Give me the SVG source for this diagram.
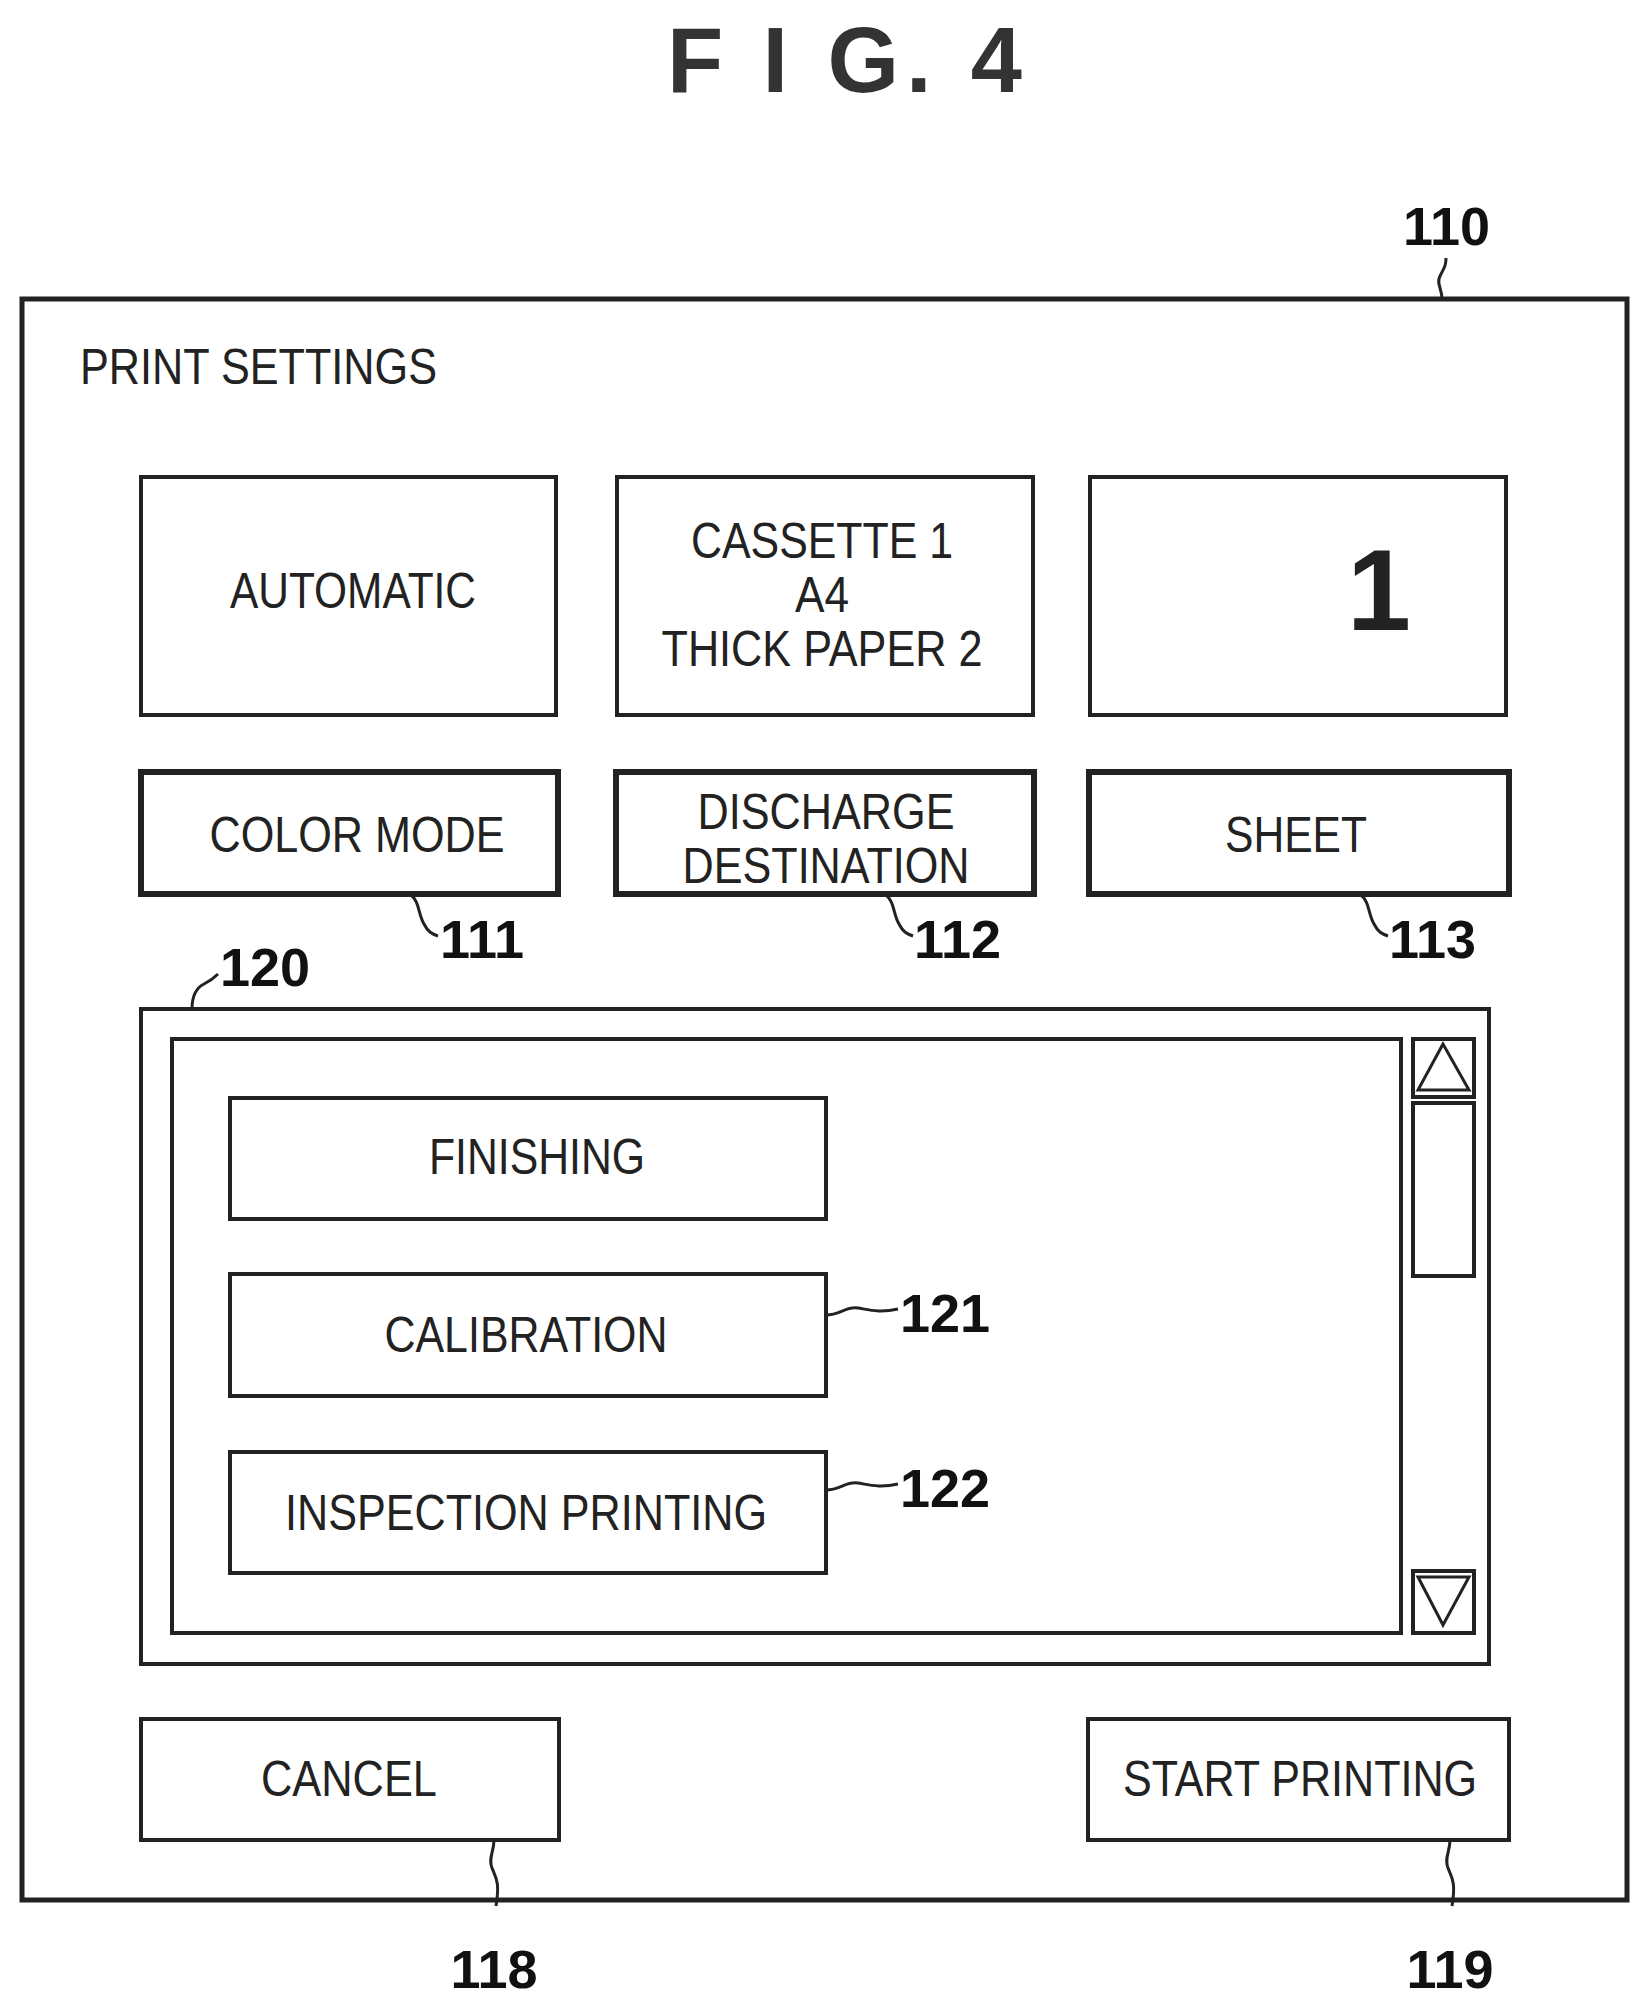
<svg xmlns="http://www.w3.org/2000/svg" width="1642" height="2004" viewBox="0 0 1642 2004">
<style>
.b{fill:none;stroke:#222;stroke-width:4}
.t{font-family:"Liberation Sans",Arial,sans-serif;font-size:50px;fill:#222;text-anchor:middle}
.n{font-family:"Liberation Sans",Arial,sans-serif;font-size:54px;font-weight:bold;fill:#111}
.l{fill:none;stroke:#222;stroke-width:3}
</style>
<rect width="1642" height="2004" fill="#fff"/>
<text x="667" y="92" textLength="355" lengthAdjust="spacing" style="font-family:'Liberation Sans',Arial,sans-serif;font-size:92px;font-weight:bold;fill:#333">F I G. 4</text>
<g id="n110"><rect class="b" x="22" y="299" width="1605" height="1601" style="stroke-width:5"/>
<text x="80" y="384" textLength="357" lengthAdjust="spacingAndGlyphs" style="font-family:'Liberation Sans',Arial,sans-serif;font-size:50px;fill:#222">PRINT SETTINGS</text></g>
<g id="auto"><rect class="b" x="141" y="477" width="415" height="238"/><text class="t" x="353" y="608" textLength="246" lengthAdjust="spacingAndGlyphs">AUTOMATIC</text></g>
<g id="cass"><rect class="b" x="617" y="477" width="416" height="238"/><text class="t" x="822" y="558" textLength="262" lengthAdjust="spacingAndGlyphs">CASSETTE 1</text><text class="t" x="822" y="612" textLength="54" lengthAdjust="spacingAndGlyphs">A4</text><text class="t" x="822" y="666" textLength="321" lengthAdjust="spacingAndGlyphs">THICK PAPER 2</text></g>
<g id="num"><rect class="b" x="1090" y="477" width="416" height="238"/><text x="1379" y="630" style="font-family:'Liberation Sans',Arial,sans-serif;font-size:115px;font-weight:bold;fill:#222" text-anchor="middle">1</text></g>
<g id="n111"><rect class="b" x="141" y="772" width="417" height="122" style="stroke-width:6"/><text class="t" x="357" y="852" textLength="295" lengthAdjust="spacingAndGlyphs">COLOR MODE</text></g>
<g id="n112"><rect class="b" x="616" y="772" width="418" height="122" style="stroke-width:6"/><text class="t" x="826" y="829" textLength="257" lengthAdjust="spacingAndGlyphs">DISCHARGE</text><text class="t" x="826" y="883" textLength="287" lengthAdjust="spacingAndGlyphs">DESTINATION</text></g>
<g id="n113"><rect class="b" x="1089" y="772" width="420" height="122" style="stroke-width:6"/><text class="t" x="1296" y="852" textLength="142" lengthAdjust="spacingAndGlyphs">SHEET</text></g>
<g id="n120"><rect class="b" x="141" y="1009" width="1348" height="655" transform="translate(0,0)" style="stroke-width:4" width-note=""/>
<rect class="b" x="172" y="1039" width="1229" height="594"/>
<rect class="b" x="1413" y="1039" width="61" height="58"/><polygon class="l" points="1443,1044 1418,1090 1469,1090"/>
<rect class="b" x="1413" y="1103" width="61" height="173"/>
<rect class="b" x="1413" y="1571" width="61" height="62"/><polygon class="l" points="1418,1577 1469,1577 1443,1625"/></g>
<g id="fin"><rect class="b" x="230" y="1098" width="596" height="121"/><text class="t" x="537" y="1174" textLength="216" lengthAdjust="spacingAndGlyphs">FINISHING</text></g>
<g id="n121"><rect class="b" x="230" y="1274" width="596" height="122"/><text class="t" x="526" y="1352" textLength="283" lengthAdjust="spacingAndGlyphs">CALIBRATION</text></g>
<g id="n122"><rect class="b" x="230" y="1452" width="596" height="121"/><text class="t" x="526" y="1530" textLength="482" lengthAdjust="spacingAndGlyphs">INSPECTION PRINTING</text></g>
<g id="n118"><rect class="b" x="141" y="1719" width="418" height="121"/><text class="t" x="349" y="1796" textLength="176" lengthAdjust="spacingAndGlyphs">CANCEL</text></g>
<g id="n119"><rect class="b" x="1088" y="1719" width="421" height="121"/><text class="t" x="1300" y="1796" textLength="354" lengthAdjust="spacingAndGlyphs">START PRINTING</text></g>
<g id="connectors">
<path class="l" d="M1442,299 C1442,288 1436,284 1440,276 C1444,268 1446,266 1446,258"/>
<path class="l" d="M410,894 C420,902 418,914 424,924 C428,932 432,934 438,936"/>
<path class="l" d="M885,894 C895,902 893,914 899,924 C903,932 907,934 913,936"/>
<path class="l" d="M1360,894 C1370,902 1368,914 1374,924 C1378,932 1382,934 1388,936"/>
<path class="l" d="M192,1009 C192,995 196,988 204,984 C210,981 214,978 218,974"/>
<path class="l" d="M826,1315 C840,1315 846,1306 858,1308 C870,1310 880,1313 898,1309"/>
<path class="l" d="M826,1490 C840,1490 846,1481 858,1483 C870,1485 880,1488 898,1484"/>
<path class="l" d="M494,1840 C494,1852 488,1858 492,1868 C496,1878 500,1882 496,1906"/>
<path class="l" d="M1450,1840 C1450,1852 1444,1858 1448,1868 C1452,1878 1456,1882 1452,1906"/>
</g>
<text class="n" x="1403" y="245">110</text>
<text class="n" x="440" y="958">111</text>
<text class="n" x="914" y="958">112</text>
<text class="n" x="1389" y="958">113</text>
<text class="n" x="220" y="986">120</text>
<text class="n" x="900" y="1332">121</text>
<text class="n" x="900" y="1507">122</text>
<text class="n" x="494" y="1988" text-anchor="middle">118</text>
<text class="n" x="1450" y="1988" text-anchor="middle">119</text>
</svg>
